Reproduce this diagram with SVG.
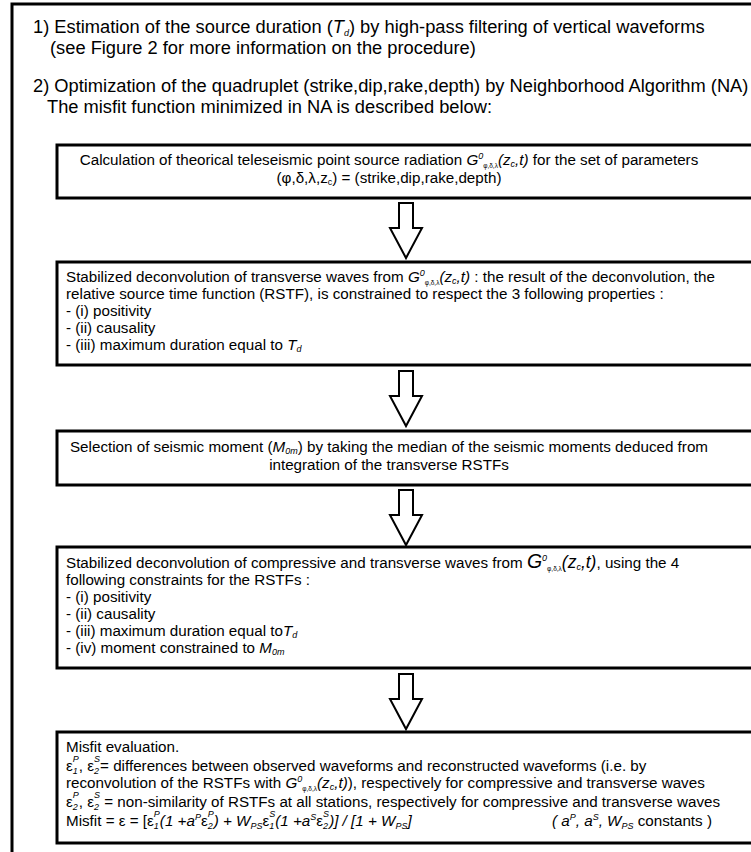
<svg xmlns="http://www.w3.org/2000/svg" width="751" height="852" viewBox="0 0 751 852">
<style>
text{font-family:"Liberation Sans",Arial,Helvetica,sans-serif;fill:#000}
.h{font-size:18.3px}
.b{font-size:15.2px}
.i{font-style:italic}
.s{font-size:9px}
.ss{font-size:6.5px}
.box{fill:#fff;stroke:#000;stroke-width:3}
.frame{fill:none;stroke:#000;stroke-width:3}
.arr{fill:#fff;stroke:#000;stroke-width:2}
</style>
<defs>
<path id="arrow" class="arr" d="M-7,0 H7 V25 H16 L0,55 L-16,25 H-7 Z"/>
</defs>
<rect width="751" height="852" fill="#fff"/>
<path class="frame" d="M12,860 V4 H760"/>
<g id="header">
<text class="h" x="33" y="33">1) Estimation of the source duration (<tspan class="i">T</tspan><tspan class="i s" dy="3">d</tspan><tspan dy="-3">) by high-pass filtering of vertical waveforms</tspan></text>
<text class="h" x="50" y="54">(see Figure 2 for more information on the procedure)</text>
<text class="h" x="33" y="92">2) Optimization of the quadruplet (strike,dip,rake,depth) by Neighborhood Algorithm (NA)</text>
<text class="h" x="47" y="113">The misfit function minimized in NA is described below:</text>
</g>
<g id="box1">
<rect class="box" x="57" y="145" width="705" height="53"/>
<text class="b" x="389" y="165" text-anchor="middle">Calculation of theorical teleseismic point source radiation <tspan class="i">G</tspan><tspan class="i s" dy="-6">0</tspan><tspan class="ss" dy="9">φ,δ,λ</tspan><tspan class="i" dy="-3">(z</tspan><tspan class="i s" dy="2">c</tspan><tspan class="i" dy="-2">,t)</tspan> for the set of parameters</text>
<text class="b" x="389" y="183" text-anchor="middle">(φ,δ,λ,z<tspan class="s" dy="2">c</tspan><tspan dy="-2">) = (strike,dip,rake,depth)</tspan></text>
</g>
<g id="box2">
<rect class="box" x="57" y="262" width="705" height="103"/>
<text class="b" x="66" y="282">Stabilized deconvolution of transverse waves from <tspan class="i">G</tspan><tspan class="i s" dy="-6">0</tspan><tspan class="ss" dy="9">φ,δ,λ</tspan><tspan class="i" dy="-3">(z</tspan><tspan class="i s" dy="2">c</tspan><tspan class="i" dy="-2">,t)</tspan> : the result of the deconvolution, the</text>
<text class="b" x="66" y="299">relative source time function (RSTF), is constrained to respect the 3 following properties :</text>
<text class="b" x="66" y="316">- (i) positivity</text>
<text class="b" x="66" y="333">- (ii) causality</text>
<text class="b" x="66" y="350">- (iii) maximum duration equal to <tspan class="i">T</tspan><tspan class="i s" dy="2">d</tspan></text>
</g>
<g id="box3">
<rect class="box" x="57" y="431" width="705" height="54"/>
<text class="b" x="389" y="452" text-anchor="middle">Selection of seismic moment (<tspan class="i">M</tspan><tspan class="i s" dy="2">0m</tspan><tspan dy="-2">) by taking the median of the seismic moments deduced from</tspan></text>
<text class="b" x="389" y="470" text-anchor="middle">integration of the transverse RSTFs</text>
</g>
<g id="box4">
<rect class="box" x="57" y="547" width="705" height="121"/>
<text class="b" x="66" y="568">Stabilized deconvolution of compressive and transverse waves from <tspan class="i" font-size="19.5">G</tspan><tspan class="i s" dy="-7">0</tspan><tspan class="ss" dy="10">φ,δ,λ</tspan><tspan class="i" font-size="17.5" dy="-3">(z</tspan><tspan class="i s" dy="2">c</tspan><tspan class="i" font-size="17.5" dy="-2">,t)</tspan>, using the 4</text>
<text class="b" x="66" y="585">following constraints for the RSTFs :</text>
<text class="b" x="66" y="602">- (i) positivity</text>
<text class="b" x="66" y="619">- (ii) causality</text>
<text class="b" x="66" y="636">- (iii) maximum duration equal to<tspan class="i">T</tspan><tspan class="i s" dy="2">d</tspan></text>
<text class="b" x="66" y="653">- (iv) moment constrained to <tspan class="i">M</tspan><tspan class="i s" dy="2">0m</tspan></text>
</g>
<g id="box5">
<rect class="box" x="57" y="732" width="705" height="111"/>
<text class="b" x="66" y="752">Misfit evaluation.</text>
<text class="b" x="66" y="771"> ε<tspan class="i s" dy="3">1</tspan><tspan class="i s" dx="-5" dy="-12">P</tspan><tspan dy="9">, ε</tspan><tspan class="i s" dy="3">2</tspan><tspan class="i s" dx="-5" dy="-12">S</tspan><tspan dy="9">= differences between observed waveforms and reconstructed waveforms (i.e. by</tspan></text>
<text class="b" x="66" y="788">reconvolution of the RSTFs with <tspan class="i">G</tspan><tspan class="i s" dy="-6">0</tspan><tspan class="ss" dy="9">φ,δ,λ</tspan><tspan class="i" dy="-3">(z</tspan><tspan class="i s" dy="2">c</tspan><tspan class="i" dy="-2">,t)</tspan>), respectively for compressive and transverse waves</text>
<text class="b" x="66" y="807">ε<tspan class="i s" dy="3">2</tspan><tspan class="i s" dx="-5" dy="-12">P</tspan><tspan dy="9">, ε</tspan><tspan class="i s" dy="3">2</tspan><tspan class="i s" dx="-5" dy="-12">S</tspan><tspan dy="9"> = non-similarity of RSTFs at all stations, respectively for compressive and transverse waves</tspan></text>
<text class="b" x="66" y="826">Misfit = ε = [ε<tspan class="i s" dy="3">1</tspan><tspan class="i s" dx="-5" dy="-12">P</tspan><tspan class="i" dy="9">(1 +a</tspan><tspan class="i s" dy="-6">P</tspan><tspan dy="6">ε</tspan><tspan class="i s" dy="3">2</tspan><tspan class="i s" dx="-5" dy="-12">P</tspan><tspan class="i" dy="9">)  + W</tspan><tspan class="i s" dy="3">PS</tspan><tspan dy="-3">ε</tspan><tspan class="i s" dy="3">1</tspan><tspan class="i s" dx="-5" dy="-12">S</tspan><tspan class="i" dy="9">(1 +a</tspan><tspan class="i s" dy="-6">S</tspan><tspan dy="6">ε</tspan><tspan class="i s" dy="3">2</tspan><tspan class="i s" dx="-5" dy="-12">S</tspan><tspan class="i" dy="9">)] / [1 + W</tspan><tspan class="i s" dy="3">PS</tspan><tspan class="i" dy="-3">]</tspan></text>
<text class="b i" x="552" y="826">( a<tspan class="s" dy="-6">P</tspan><tspan dy="6">, a</tspan><tspan class="s" dy="-6">S</tspan><tspan dy="6">,  W</tspan><tspan class="s" dy="3">PS</tspan><tspan dy="-3" font-style="normal"> constants )</tspan></text>
</g>
<g id="connectors">
<use href="#arrow" x="406" y="203"/>
<use href="#arrow" x="406" y="371"/>
<use href="#arrow" x="406" y="490"/>
<use href="#arrow" x="406" y="674"/>
</g>
</svg>
